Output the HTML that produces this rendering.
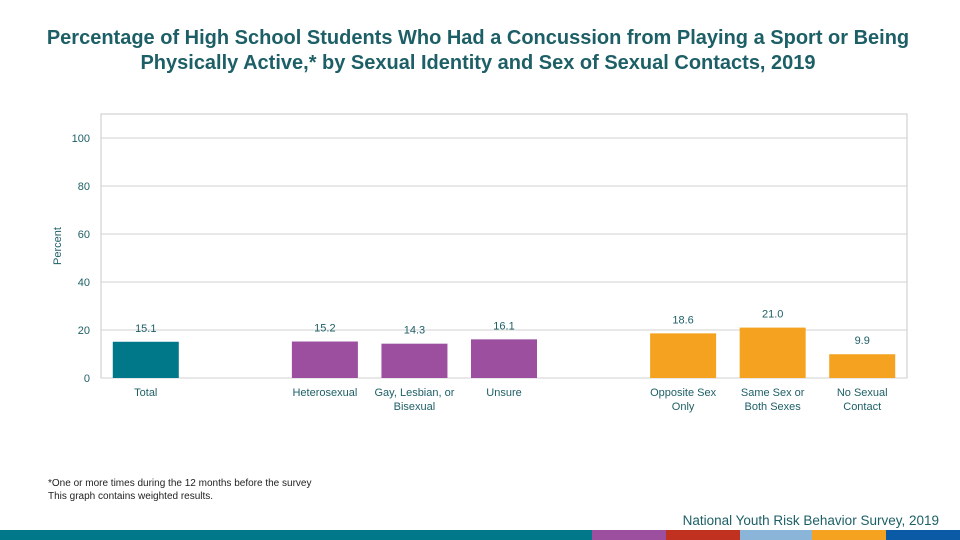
<!DOCTYPE html>
<html><head><meta charset="utf-8"><style>
body{margin:0;width:960px;height:540px;background:#fff;font-family:"Liberation Sans",sans-serif;overflow:hidden;position:relative}
.t{position:absolute;white-space:nowrap}
</style></head><body>
<div class="t" style="left:0;width:956px;top:26px;text-align:center;font-size:20px;font-weight:bold;color:#1d5f66;line-height:25px;white-space:normal">Percentage of High School Students Who Had a Concussion from Playing a Sport or Being<br>Physically Active,* by Sexual Identity and Sex of Sexual Contacts, 2019</div>
<svg id="chart" width="960" height="540" style="position:absolute;left:0;top:0"></svg>
<div class="t" style="left:48px;top:477px;font-size:10px;color:#222;line-height:13px">*One or more times during the 12 months before the survey<br>This graph contains weighted results.</div>
<div class="t" style="right:21px;top:513px;font-size:13.5px;color:#1d5f66">National Youth Risk Behavior Survey, 2019</div>
<div style="position:absolute;left:0;top:530px;width:960px;height:10px;display:flex">
<div style="width:592px;background:#00788a"></div><div style="width:74px;background:#9b4f9e"></div><div style="width:74px;background:#c0311f"></div><div style="width:72px;background:#8ab4d8"></div><div style="width:74px;background:#f4a21f"></div><div style="width:74px;background:#0a5aa5"></div></div>
<script>
const categories=["Total","","Heterosexual","Gay, Lesbian, or|Bisexual","Unsure","","Opposite Sex|Only","Same Sex or|Both Sexes","No Sexual|Contact"];
const values=[15.1,null,15.2,14.3,16.1,null,18.6,21.0,9.9];
const barColors=["#00788a",null,"#9b4f9e","#9b4f9e","#9b4f9e",null,"#f4a21f","#f4a21f","#f4a21f"];
const yTicks=[0,20,40,60,80,100];
const svg=document.getElementById('chart');const NS='http://www.w3.org/2000/svg';
const L=101,R=907,T=114,B=378,yMax=100,y100=138;
const y=v=>B-(B-y100)*v/yMax;const slot=(R-L)/categories.length;const x=i=>L+slot*(i+0.5);
function mk(t,a,txt){const e=document.createElementNS(NS,t);for(const k in a)e.setAttribute(k,a[k]);if(txt!=null)e.textContent=txt;svg.appendChild(e);return e;}
let e=mk('rect',{x:L,y:T,width:R-L,height:B-T,fill:'none',stroke:'#c8c8c8'});

yTicks.forEach(v=>{
 e=mk('line',{x1:L,x2:R,y1:y(v),y2:y(v),stroke:'#d0d0d0'});
 
 e=mk('text',{x:90,y:y(v)+4,'text-anchor':'end','font-size':11,fill:'#1d5f66'},v);
 
});
e=mk('text',{x:0,y:0,transform:'translate(61,246) rotate(-90)','text-anchor':'middle','font-size':11,fill:'#1d5f66'},'Percent');

const bw=66;
categories.forEach((c,i)=>{
 if(values[i]!=null){
  e=mk('rect',{x:x(i)-bw/2,y:y(values[i]),width:bw,height:B-y(values[i]),fill:barColors[i]});
  
  e=mk('text',{x:x(i),y:y(values[i])-10,'text-anchor':'middle','font-size':11,fill:'#1d5f66'},values[i].toFixed(1));
  
 }
 c.split('|').forEach((ln,j)=>{if(!ln)return;
  e=mk('text',{x:x(i),y:396+j*14,'text-anchor':'middle','font-size':11,fill:'#1d5f66'},ln);
  
 });
});
</script>
</body></html>
